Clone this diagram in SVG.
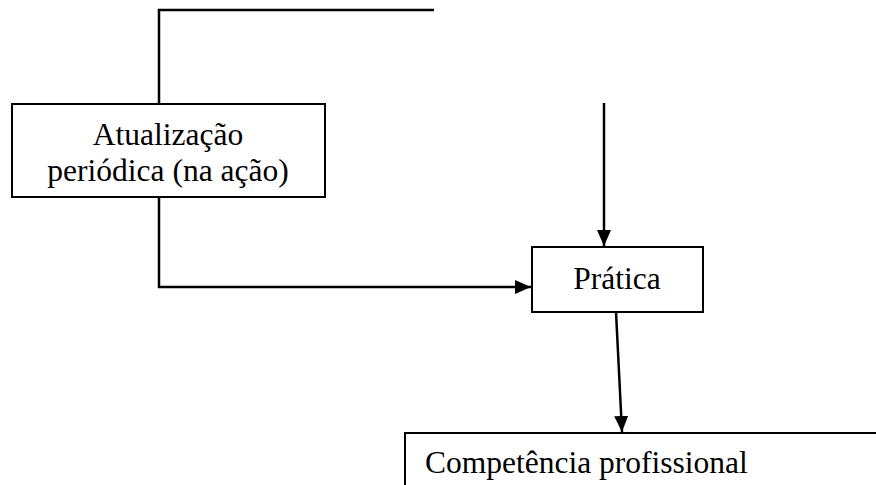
<svg xmlns="http://www.w3.org/2000/svg" width="876" height="485" viewBox="0 0 876 485">
<defs>
<style>
.box{fill:#fff;stroke:#000;stroke-width:2}
.ln{fill:none;stroke:#000;stroke-width:2.5}
.t{font-family:"Liberation Serif","Times New Roman",serif;font-size:31.5px;fill:#000}
</style>
<marker id="ah2" viewBox="0 0 16 14" refX="16" refY="7" markerWidth="16" markerHeight="14" markerUnits="userSpaceOnUse" orient="auto">
<path d="M0,0 L16,7 L0,14 z" fill="#000"/>
</marker>
</defs>
<g id="connectors">
<polyline class="ln" points="434,10 159,10 159,104"/>
<polyline class="ln" points="159,197 159,287 531,287" marker-end="url(#ah2)"/>
<line class="ln" x1="604" y1="103" x2="604" y2="246" marker-end="url(#ah2)"/>
<line class="ln" x1="616" y1="312" x2="622" y2="432" marker-end="url(#ah2)"/>
</g>
<g id="node-atualizacao">
<rect class="box" x="12" y="104" width="313" height="93"/>
<text class="t" x="168" y="145" text-anchor="middle">Atualização</text>
<text class="t" x="168" y="181" text-anchor="middle">periódica (na ação)</text>
</g>
<g id="node-pratica">
<rect class="box" x="532" y="247" width="171" height="65"/>
<text class="t" x="617" y="289" text-anchor="middle">Prática</text>
</g>
<g id="node-competencia">
<polyline class="ln" points="405,486 405,433 876,433" style="stroke-width:2"/>
<text class="t" x="425" y="473">Competência profissional</text>
</g>
</svg>
